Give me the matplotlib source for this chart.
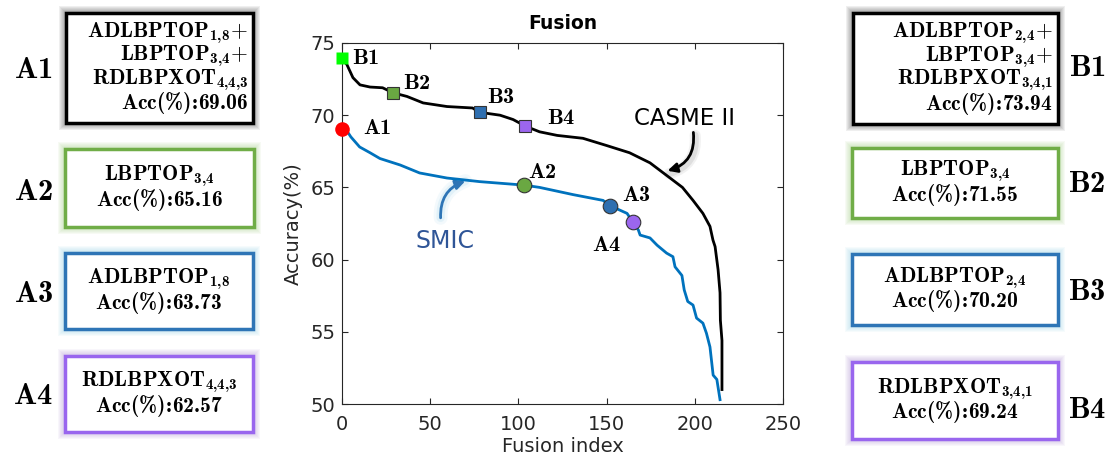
import matplotlib
matplotlib.use("Agg")
import matplotlib.pyplot as plt
from matplotlib.patches import Rectangle, FancyArrowPatch

plt.rcParams["mathtext.fontset"] = "custom"
plt.rcParams["mathtext.rm"] = "cmr10"
plt.rcParams["mathtext.bf"] = "cmb10"
plt.rcParams["mathtext.it"] = "cmmi10"
plt.rcParams["font.family"] = "DejaVu Sans"

# CASME II curve
cas_x = [0, 2.8, 6.2, 10.2, 15.9, 23, 29, 36.8, 46, 59.5, 74, 78, 89.6, 97, 104, 112, 122,
         136.6, 150, 163, 174.6, 187.6, 193, 199, 204.6, 208.6, 210.3, 211.5, 213.2, 214.3,
         214.5, 215.4, 215.4]
cas_y = [73.94, 73.5, 72.6, 72.1, 71.95, 71.9, 71.55, 71.3, 70.85, 70.6, 70.5, 70.2, 70.0,
         69.7, 69.24, 68.85, 68.6, 68.4, 67.9, 67.4, 66.7, 65.5, 65.0, 64.1, 63.2, 62.3,
         61.35, 60.9, 59.3, 57.7, 55.8, 54.4, 51.0]

# SMIC curve
smic_x = [0, 3.4, 5, 10, 15.9, 21.5, 33, 44, 59.5, 78, 103, 112, 131, 148, 152, 161.6, 165,
          168, 169, 174.6, 178.6, 184, 187.6, 188.8, 192.7, 194, 196, 199, 201, 204.6, 206.6,
          208.6, 210.4, 212.5, 214.3]
smic_y = [69.06, 68.8, 68.5, 67.8, 67.4, 67.0, 66.55, 66.0, 65.65, 65.4, 65.16, 65.0, 64.5,
          64.1, 63.73, 63.2, 62.57, 62.05, 61.7, 61.5, 61.0, 60.45, 60.2, 59.5, 58.9, 57.9,
          57.1, 56.85, 55.95, 55.6, 54.9, 53.95, 52.0, 51.7, 50.3]

# highlighted points
a_names = ["A1", "A2", "A3", "A4"]
a_x = [0, 103, 152, 165]
a_y = [69.06, 65.16, 63.73, 62.57]
b_names = ["B1", "B2", "B3", "B4"]
b_x = [0, 29, 78, 104]
b_y = [73.94, 71.55, 70.20, 69.24]

# box texts
a_box_lines = [
    [r"$\mathbf{ADLBPTOP}_{\mathbf{1{,}8}}{+}$", r"$\mathbf{LBPTOP}_{\mathbf{3{,}4}}{+}$",
     r"$\mathbf{RDLBPXOT}_{\mathbf{4{,}4{,}3}}$", r"$\mathbf{Acc(\%)\!:\!69.06}$"],
    [r"$\mathbf{LBPTOP}_{\mathbf{3{,}4}}$", r"$\mathbf{Acc(\%)\!:\!65.16}$"],
    [r"$\mathbf{ADLBPTOP}_{\mathbf{1{,}8}}$", r"$\mathbf{Acc(\%)\!:\!63.73}$"],
    [r"$\mathbf{RDLBPXOT}_{\mathbf{4{,}4{,}3}}$", r"$\mathbf{Acc(\%)\!:\!62.57}$"],
]
b_box_lines = [
    [r"$\mathbf{ADLBPTOP}_{\mathbf{2{,}4}}{+}$", r"$\mathbf{LBPTOP}_{\mathbf{3{,}4}}{+}$",
     r"$\mathbf{RDLBPXOT}_{\mathbf{3{,}4{,}1}}$", r"$\mathbf{Acc(\%)\!:\!73.94}$"],
    [r"$\mathbf{LBPTOP}_{\mathbf{3{,}4}}$", r"$\mathbf{Acc(\%)\!:\!71.55}$"],
    [r"$\mathbf{ADLBPTOP}_{\mathbf{2{,}4}}$", r"$\mathbf{Acc(\%)\!:\!70.20}$"],
    [r"$\mathbf{RDLBPXOT}_{\mathbf{3{,}4{,}1}}$", r"$\mathbf{Acc(\%)\!:\!69.24}$"],
]

marker_colors = ["#ff0000", "#6aa842", "#2e6fb0", "#9b66ee"]
b_marker_colors = ["#00ff00", "#6aa842", "#2e6fb0", "#9b66ee"]
box_colors = ["#000000", "#70ad47", "#2e75b6", "#9966ee"]
glow_colors = ["#555555", "#a9d18e", "#9dd3e8", "#b8a0d8"]

W, H = 1112, 458
fig = plt.figure(figsize=(W / 100, H / 100), dpi=100)
ax = fig.add_axes([342 / W, 1 - 404 / H, (783 - 342) / W, (404 - 43) / H])


def fx(x):
    return x / W


def fy(y):
    return 1 - y / H


ax.plot(cas_x, cas_y, color="black", lw=2)
ax.plot(smic_x, smic_y, color="#0072bd", lw=2)

for i in range(4):
    ax.plot(b_x[i], b_y[i], "s", ms=9, mfc=b_marker_colors[i],
            mec="none" if i == 0 else "#333333", mew=0.8, zorder=5, clip_on=False)
    ax.plot(a_x[i], a_y[i], "o", ms=10.5, mfc=marker_colors[i],
            mec="none" if i == 0 else "#333333", mew=0.8, zorder=5, clip_on=False)

# point labels
b_lab_pos = [(5.7, 73.96), (34.6, 72.23), (82.2, 71.26), (116.2, 69.8)]
a_lab_pos = [(11.9, 69.1), (105.4, 66.07), (158.7, 64.47), (141.7, 61.0)]
for i in range(4):
    ax.text(*b_lab_pos[i], r"$\mathbf{%s}$" % b_names[i], fontsize=16, va="center", ha="left")
    ax.text(*a_lab_pos[i], r"$\mathbf{%s}$" % a_names[i], fontsize=16, va="center", ha="left")

# annotations
ax.text(194.4, 69.8, "CASME II", fontsize=16.5, ha="center", va="center")
for lw, al in [(8, 0.08), (5, 0.12)]:
    ax.add_patch(FancyArrowPatch((200, 68.8), (184, 65.9), connectionstyle="arc3,rad=-0.45",
                                 arrowstyle="-", lw=lw, color="#555555", alpha=al))
ax.add_patch(FancyArrowPatch((199, 69.0), (183, 66.1), connectionstyle="arc3,rad=-0.45",
                             arrowstyle="-|>", mutation_scale=14, lw=2, color="black"))
ax.text(58.6, 61.3, "SMIC", fontsize=17, ha="center", va="center", color="#2f5597")
for lw, al in [(10, 0.12), (6, 0.2)]:
    ax.add_patch(FancyArrowPatch((56, 62.7), (71.4, 65.5), connectionstyle="arc3,rad=-0.4",
                                 arrowstyle="-", lw=lw, color="#9dd3e8", alpha=al))
ax.add_patch(FancyArrowPatch((56, 62.7), (71.4, 65.5), connectionstyle="arc3,rad=-0.4",
                             arrowstyle="-|>", mutation_scale=14, lw=2, color="#2e75b6"))

ax.set_xlim(0, 250)
ax.set_ylim(50, 75)
ax.set_xticks([0, 50, 100, 150, 200, 250])
ax.set_yticks([50, 55, 60, 65, 70, 75])
ax.tick_params(direction="in", top=True, right=True, labelsize=14, colors="#262626",
               length=4, width=0.8, pad=5)
ax.tick_params(axis="x", pad=8)
for s in ax.spines.values():
    s.set_color("#262626")
    s.set_linewidth(0.8)
ax.set_title("Fusion", fontsize=13.5, fontweight="bold", pad=10)
ax.set_xlabel("Fusion index", fontsize=14, color="#262626", labelpad=2)
ax.set_ylabel("Accuracy(%)", fontsize=14, color="#262626", labelpad=5)

# boxes on both sides (pixel coords: x0, y0, x1, y1)
a_boxes = [(66, 13, 253, 123), (65, 149, 254, 227), (65, 253, 253, 329), (65, 356, 253, 432)]
b_boxes = [(853, 13, 1058, 124), (852, 148, 1058, 218), (852, 254, 1058, 325), (852, 362, 1058, 439)]
a_lab_y = [70, 192, 293, 395]
b_lab_y = [67, 183, 292, 410]


def draw_box(box, i, lines, right_align):
    x0, y0, x1, y1 = box
    for p in range(7, 0, -1):
        fig.patches.append(Rectangle((fx(x0 - p), fy(y1 + p)), (x1 - x0 + 2 * p) / W,
                                     (y1 - y0 + 2 * p) / H, transform=fig.transFigure,
                                     facecolor=glow_colors[i], edgecolor="none", alpha=0.09))
    fig.patches.append(Rectangle((fx(x0), fy(y1)), (x1 - x0) / W, (y1 - y0) / H,
                                 transform=fig.transFigure, facecolor="white",
                                 edgecolor=box_colors[i], lw=2.5))
    n = len(lines)
    cy = (y0 + y1) / 2
    step = 23.5
    for k, t in enumerate(lines):
        yy = cy + (k - (n - 1) / 2) * step
        if right_align:
            fig.text(fx(x1 - 5), fy(yy), t, fontsize=15.5, ha="right", va="center")
        else:
            fig.text(fx((x0 + x1) / 2), fy(yy), t, fontsize=15.5, ha="center", va="center")


for i in range(4):
    draw_box(a_boxes[i], i, a_box_lines[i], i == 0)
    draw_box(b_boxes[i], i, b_box_lines[i], i == 0)
    fig.text(fx(33), fy(a_lab_y[i]), r"$\mathbf{%s}$" % a_names[i], fontsize=22,
             ha="center", va="center")
    fig.text(fx(1087), fy(b_lab_y[i]), r"$\mathbf{%s}$" % b_names[i], fontsize=22,
             ha="center", va="center")

fig.savefig("out.png", dpi=100)
